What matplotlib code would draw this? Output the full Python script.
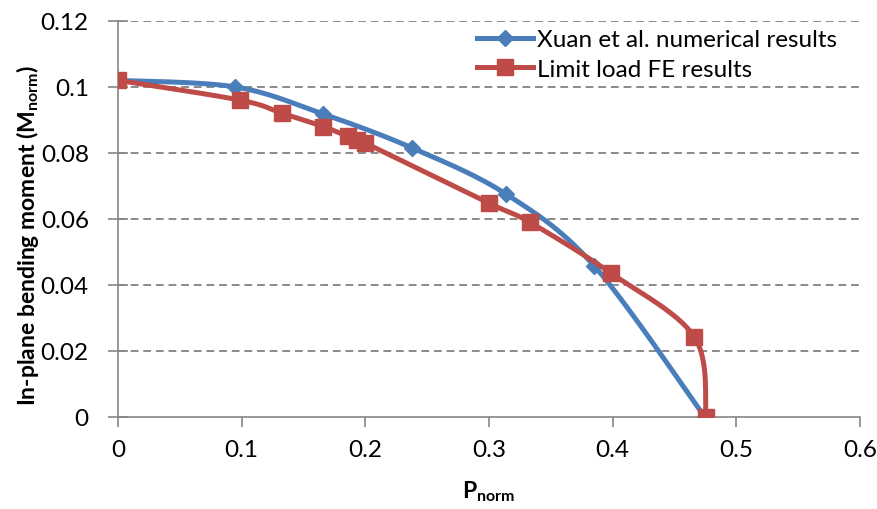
import matplotlib.pyplot as plt
import numpy as np

plt.rcParams["font.family"] = "Lato"
plt.rcParams["mathtext.fontset"] = "custom"
plt.rcParams["mathtext.rm"] = "Lato:bold"

# Xuan et al. numerical interaction curve
xuan_p = [0.0, 0.095, 0.166, 0.238, 0.314, 0.385, 0.4745]
xuan_m = [0.102, 0.100, 0.0918, 0.0815, 0.0675, 0.0458, 0.0]

# limit load FE results
fe_p = [0.0, 0.099, 0.133, 0.166, 0.186, 0.193, 0.200, 0.300, 0.333, 0.399, 0.466, 0.4755]
fe_m = [0.102, 0.096, 0.092, 0.088, 0.085, 0.084, 0.083, 0.0648, 0.059, 0.0435, 0.0243, 0.0]

blue = "#4a7ebb"
red = "#be4b48"

XMAX, YMAX = 0.6, 0.12
AX_W, AX_H = 742, 396  # axes size in px, used so smoothing follows screen shape


def smooth(xs, ys, n=30):
    # Catmull-Rom style bezier smoothing in screen units
    u = np.array(xs) / XMAX * AX_W
    v = np.array(ys) / YMAX * AX_H
    pts = np.column_stack([u, v])
    pts = np.vstack([pts[0], pts, pts[-1]])
    out = []
    for i in range(1, len(pts) - 2):
        p0, p1, p2, p3 = pts[i - 1], pts[i], pts[i + 1], pts[i + 2]
        c1 = p1 + (p2 - p0) / 6
        c2 = p2 - (p3 - p1) / 6
        t = np.linspace(0, 1, n)[:, None]
        seg = ((1 - t) ** 3) * p1 + 3 * ((1 - t) ** 2) * t * c1 + 3 * (1 - t) * t ** 2 * c2 + t ** 3 * p2
        out.append(seg if i == 1 else seg[1:])
    out = np.vstack(out)
    return out[:, 0] / AX_W * XMAX, out[:, 1] / AX_H * YMAX


fig = plt.figure(figsize=(8.78, 5.10), dpi=100)
ax = fig.add_axes([0.1344, 0.1804, 0.8451, 0.7765])

for y in np.arange(0.02, 0.121, 0.02):
    ax.axhline(y, color="#8a8a8a", lw=1.4, ls=(0, (4, 2.5)), zorder=0)

bx, by = smooth(xuan_p, xuan_m)
ax.plot(bx, by, color=blue, lw=3.6, solid_capstyle="round", zorder=2)
ax.plot(xuan_p, xuan_m, ls="none", marker="D", ms=8, color=blue, zorder=3)
rx, ry = smooth(fe_p, fe_m)
ax.plot(rx, ry, color=red, lw=3.6, solid_capstyle="round", zorder=4)
ax.plot(fe_p, fe_m, ls="none", marker="s", ms=11, color=red, zorder=5)

# legend proxies
ax.plot([], [], color=blue, lw=3.6, marker="D", ms=8, label="Xuan et al. numerical results")
ax.plot([], [], color=red, lw=3.6, marker="s", ms=11, label="Limit load FE results")
ax.legend(loc="upper left", bbox_to_anchor=(0.455, 1.035), frameon=False, fontsize=17.5,
          handlelength=2.3, handletextpad=0.15, labelspacing=0.35, markerscale=1.0)

ax.set_xlim(0, XMAX)
ax.set_ylim(0, YMAX)
ax.set_xticks(np.arange(0, 0.61, 0.1))
ax.set_yticks(np.arange(0, 0.121, 0.02))
ax.set_xticklabels(["0", "0.1", "0.2", "0.3", "0.4", "0.5", "0.6"])
ax.set_yticklabels(["0", "0.02", "0.04", "0.06", "0.08", "0.1", "0.12"])
ax.tick_params(axis="x", direction="out", length=7, width=1.2, color="#868686", labelsize=17.5, pad=9)
ax.tick_params(axis="y", direction="inout", length=14, width=1.2, color="#868686", labelsize=17.5, pad=14)
for s in ["top", "right"]:
    ax.spines[s].set_visible(False)
for s in ["left", "bottom"]:
    ax.spines[s].set_color("#868686")
    ax.spines[s].set_linewidth(1.2)

ax.set_xlabel("P$_\\mathrm{norm}$", fontsize=16.5, fontweight="bold", labelpad=13)
ax.set_ylabel("In-plane bending moment (M$_\\mathrm{norm}$)", fontsize=16.5, fontweight="bold")
ax.yaxis.set_label_coords(-0.104, 0.46)

fig.savefig("out.png", dpi=100)
